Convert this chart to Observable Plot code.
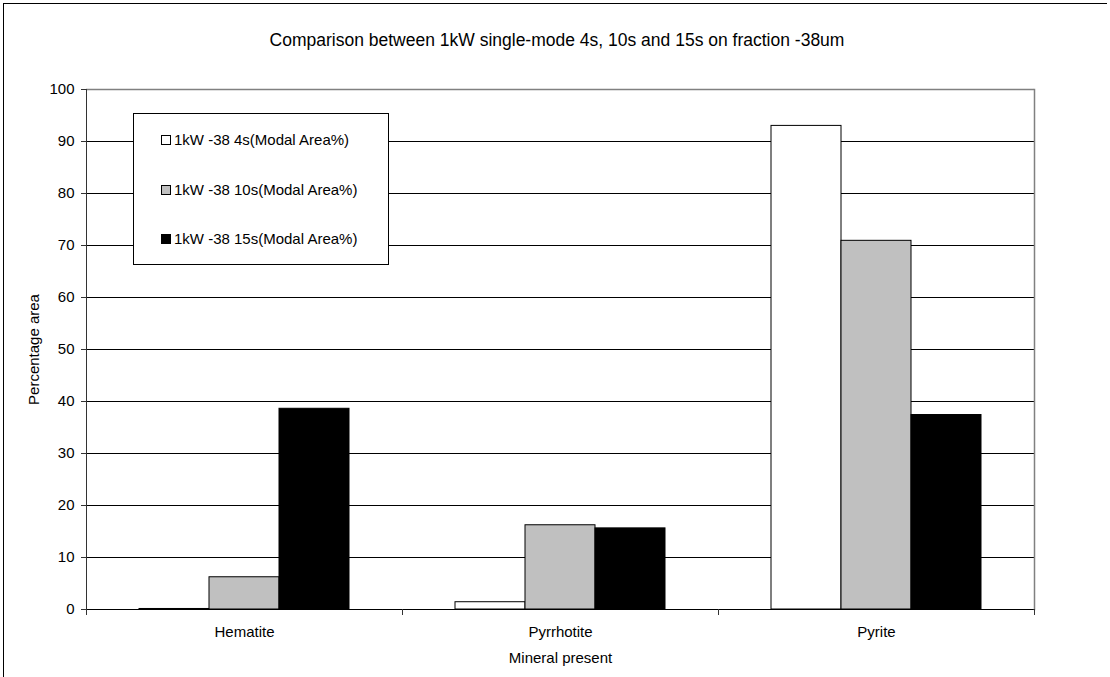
<!DOCTYPE html>
<html>
<head>
<meta charset="utf-8">
<script src="https://cdn.jsdelivr.net/npm/d3@7"></script>
<script src="https://cdn.jsdelivr.net/npm/@observablehq/plot@0.6"></script>
<style>
  html, body { margin: 0; padding: 0; background: #fff; }
  #wrap { position: relative; width: 1110px; height: 677px; font-family: "Liberation Sans", Arial, sans-serif; }
  #border { position: absolute; left: 3px; top: 3px; width: 1104px; height: 700px; border-left: 1px solid #000; border-top: 1px solid #000; box-sizing: border-box; pointer-events: none; }
  #title { position: absolute; left: 0; width: 1114px; top: 30px; text-align: center; font-size: 17.5px; color: #000; }
  #legend { position: absolute; left: 133px; top: 113px; width: 256px; height: 152px; border: 1px solid #000; box-sizing: border-box; background: #fff; font-size: 15px; }
  .item { position: absolute; left: 27px; height: 18px; line-height: 18px; white-space: nowrap; }
  .sw { display: inline-block; width: 8px; height: 8px; border: 1px solid #000; vertical-align: 0px; margin-right: 3px; }
</style>
</head>
<body>
<div id="wrap">
  <div id="chart"></div>
  <div id="title"></div>
  <div id="legend"></div>
  <div id="border"></div>
</div>
<script>
const title = "Comparison between 1kW single-mode 4s, 10s and 15s on fraction -38um";
const minerals = ["Hematite", "Pyrrhotite", "Pyrite"];
const seriesNames = ["1kW -38 4s(Modal Area%)", "1kW -38 10s(Modal Area%)", "1kW -38 15s(Modal Area%)"];
const values4s = [0.1, 1.4, 93.0];
const values10s = [6.2, 16.2, 70.9];
const values15s = [38.6, 15.6, 37.4];
const seriesColors = ["#ffffff", "#c0c0c0", "#000000"];
const yTicks = [0, 10, 20, 30, 40, 50, 60, 70, 80, 90, 100];
const yLabel = "Percentage area";
const xLabel = "Mineral present";

const allValues = [values4s, values10s, values15s];
const rows = [];
minerals.forEach((m, i) => {
  seriesNames.forEach((s, j) => rows.push({mineral: m, series: s, value: allValues[j][i]}));
});

const chart = Plot.plot({
  width: 1110,
  height: 677,
  marginTop: 89,
  marginRight: 76,
  marginBottom: 68,
  marginLeft: 86,
  style: {fontFamily: "'Liberation Sans', Arial, sans-serif", fontSize: "15px", color: "#000", background: "transparent"},
  fx: {domain: minerals, paddingInner: 0, paddingOuter: 0},
  x: {domain: seriesNames, paddingInner: 0, paddingOuter: 0.75, axis: null},
  y: {domain: [0, 100]},
  color: {domain: seriesNames, range: seriesColors},
  marks: [
    Plot.ruleY(yTicks.filter(d => d < 100), {stroke: "#000", strokeWidth: 1}),
    Plot.ruleY([100], {stroke: "#808080", strokeWidth: 1.5}),
    Plot.frame({anchor: "right", facetAnchor: "right", stroke: "#808080", strokeWidth: 1.5}),
    Plot.frame({anchor: "left", facetAnchor: "left", stroke: "#333"}),
    Plot.frame({anchor: "left", insetTop: 520, insetBottom: -5, stroke: "#333"}),
    Plot.frame({anchor: "right", facetAnchor: "right", insetTop: 520, insetBottom: -5, stroke: "#333"}),
    Plot.barY(rows, {fx: "mineral", x: "series", y: "value", fill: "series", stroke: "#000", strokeWidth: 1}),
    Plot.axisY({ticks: yTicks, tickSize: 5, tickPadding: 7, stroke: "#333", label: yLabel, labelAnchor: "center", labelOffset: 58, labelArrow: "none"}),
    Plot.axisFx({anchor: "bottom", tickSize: 0, tickPadding: 17, label: xLabel, labelAnchor: "center", labelOffset: 53, labelArrow: "none"})
  ]
});
document.getElementById("chart").appendChild(chart);
document.getElementById("title").textContent = title;

const legend = document.getElementById("legend");
const itemTops = [17, 67, 116];
seriesNames.forEach((s, i) => {
  const div = document.createElement("div");
  div.className = "item";
  div.style.top = itemTops[i] + "px";
  const sw = document.createElement("span");
  sw.className = "sw";
  sw.style.background = seriesColors[i];
  div.appendChild(sw);
  div.appendChild(document.createTextNode(s));
  legend.appendChild(div);
});
</script>
</body>
</html>
